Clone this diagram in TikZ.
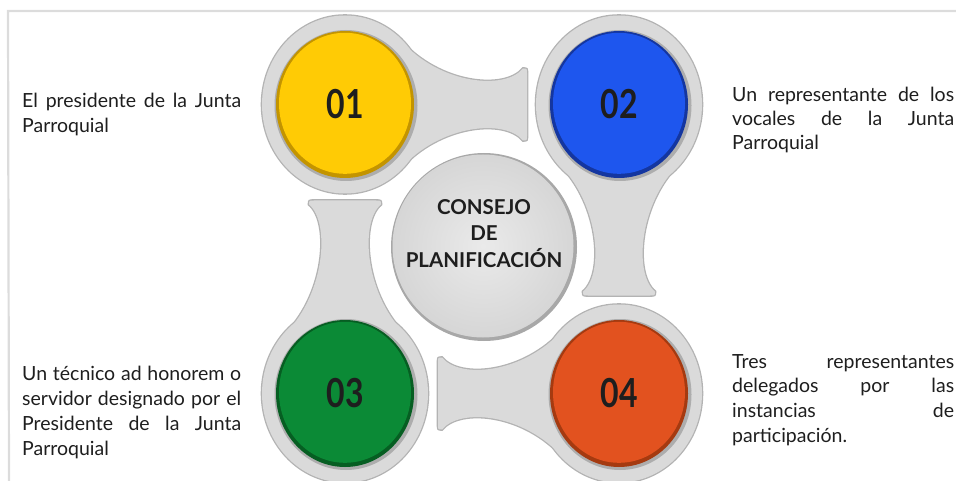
\documentclass[tikz,border=0pt]{standalone}
\usepackage{fontspec}
\setmainfont{Lato}
\definecolor{framec}{HTML}{DCDCDC}
\definecolor{ringfill}{HTML}{DADADA}
\definecolor{ringedge}{HTML}{B3B3B3}
\definecolor{shadowc}{HTML}{ADADAD}
\definecolor{ymain}{HTML}{FFCB05}
\definecolor{ydark}{HTML}{C39400}
\definecolor{bmain}{HTML}{1E56EE}
\definecolor{bdark}{HTML}{1436A0}
\definecolor{gmain}{HTML}{0B8A36}
\definecolor{gdark}{HTML}{065E22}
\definecolor{omain}{HTML}{E2521F}
\definecolor{odark}{HTML}{A53A10}
\definecolor{txtc}{HTML}{1E1E1E}
\definecolor{cin}{HTML}{EAEAEA}
\definecolor{cout}{HTML}{D6D6D6}
\definecolor{crim}{HTML}{A8A8A8}
\newcommand\bridgeshape[1]{(56,-64) .. controls (95,-20) and (#1-22,-14) .. (#1-4,-36) .. controls (#1,-36) .. (#1,-31) -- (#1,31) .. controls (#1,36) .. (#1-4,36) .. controls (#1-22,14) and (95,20) .. (56,64) -- (0,0) -- cycle}
\tikzset{
  frameline/.style={draw=framec, line width=2.2pt},
  ringout/.style={draw=ringedge, fill=ringedge, line width=2.6pt},
  ringin/.style={fill=ringfill},
  num/.style={font=\fontsize{40}{40}\selectfont\bfseries, text=txtc, inner sep=0pt, xscale=0.8},
  ctr/.style={font=\fontsize{20.5}{20.5}\selectfont\bfseries, text=txtc, inner sep=0pt, anchor=base},
  txt/.style={font=\fontsize{19.5}{25}\selectfont, text=txtc, inner sep=0pt, anchor=base west}
}
\begin{document}
\begin{tikzpicture}[x=1pt,y=-1pt]
\useasboundingbox (0,0) rectangle (956,481);
\coordinate (fa) at (8,11);
\coordinate (fb) at (956,11);
\coordinate (fc) at (9,481);
\draw[frameline] (fb) -- (fa) -- (fc);

\coordinate (c1) at (345,104.5);
\coordinate (c2) at (619,104.5);
\coordinate (c3) at (345,393.5);
\coordinate (c4) at (619,393.5);
\coordinate (c0) at (484,247);

% outer edges of rings and bridges
\foreach \c/\r/\L in {c1/0/182, c2/-90/191, c4/180/181, c3/90/193}{
  \begin{scope}[shift={(\c)}, rotate=\r]
    \path[ringout] \bridgeshape{\L};
  \end{scope}
  \path[ringout] (\c) ellipse [x radius=83, y radius=89];
}
% fills of rings and bridges
\foreach \c/\r/\L in {c1/0/182, c2/-90/191, c4/180/181, c3/90/193}{
  \begin{scope}[shift={(\c)}, rotate=\r]
    \path[ringin] \bridgeshape{\L};
  \end{scope}
  \path[ringin] (\c) ellipse [x radius=83, y radius=89];
  \path[fill=shadowc] (\c) ++(1,1) ellipse [x radius=71.5, y radius=75.5];
}
% coloured discs
\foreach \c/\m/\d in {c1/ymain/ydark, c2/bmain/bdark, c3/gmain/gdark, c4/omain/odark}{
  \path[fill=\d] (\c) ellipse [x radius=69, y radius=73.5];
  \path[fill=\m] (\c) ++(0,-1.2) ellipse [x radius=66, y radius=70.5];
}
\node[num] (n1) at (c1) {01};
\node[num] (n2) at (c2) {02};
\node[num] (n3) at (c3) {03};
\node[num] (n4) at (c4) {04};

% centre disc
\path[fill=crim] (c0) ellipse [x radius=93, y radius=94];
\path[inner color=cin, outer color=cout] (c0) ++(-1,-1) ellipse [x radius=90.5, y radius=91.5];
\node[ctr] (k1) at (484,215) {CONSEJO};
\node[ctr] (k2) at (484,241) {DE};
\node[ctr] (k3) at (484,267) {PLANIFICACIÓN};

% texts
\node[txt] (t1) at (22,108) {\parbox[t]{219pt}{\makebox[219pt][s]{El presidente de la Junta}\\Parroquial}};
\node[txt, font=\fontsize{19.5}{24}\selectfont] (t2) at (732,102) {\parbox[t]{222pt}{\makebox[222pt][s]{Un representante de los}\\\makebox[222pt][s]{vocales de la Junta}\\Parroquial}};
\node[txt] (t3) at (22,380) {\parbox[t]{219pt}{\makebox[219pt][s]{Un técnico ad honorem o}\\\makebox[219pt][s]{servidor designado por el}\\\makebox[219pt][s]{Presidente de la Junta}\\Parroquial}};
\node[txt, font=\fontsize{19.5}{24.7}\selectfont] (t4) at (732,368) {\parbox[t]{222pt}{\makebox[222pt][s]{Tres representantes}\\\makebox[222pt][s]{delegados por las}\\\makebox[222pt][s]{instancias de}\\participación.}};
\end{tikzpicture}
\end{document}
